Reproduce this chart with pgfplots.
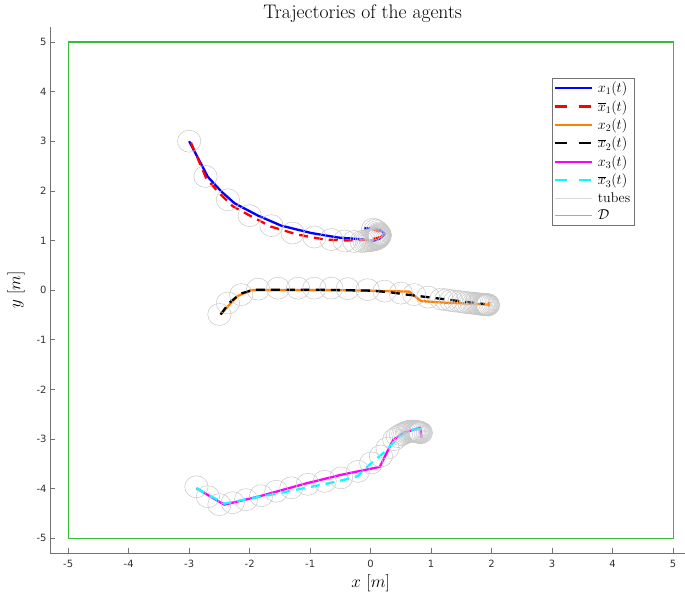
\documentclass[border=0pt]{standalone}
\usepackage{pgfplots}
\pgfplotsset{compat=1.18}
\usepackage{fontspec}
\newfontfamily\tickfont{DejaVu Sans}
\definecolor{cblue}{rgb}{0,0,1}
\definecolor{cred}{rgb}{1,0,0}
\definecolor{corange}{rgb}{1,0.5,0}
\definecolor{cmag}{rgb}{1,0,1}
\definecolor{ccyan}{rgb}{0,1,1}
\definecolor{cgreen}{rgb}{0.2,0.75,0.2}
\definecolor{ltgreen}{rgb}{0.45,0.82,0.45}
\definecolor{axgray}{rgb}{0.45,0.45,0.45}
\begin{document}
\begin{tikzpicture}
\path[use as bounding box] (-50bp,-45.7bp) rectangle (635bp,553.3bp);
\begin{axis}[
  at={(0,0)}, anchor=south west,
  scale only axis, width=641.3bp, height=526.3bp,
  xmin=-5.3, xmax=5.3, ymin=-5.3, ymax=5.3,
  axis x line*=bottom, axis y line*=left,
  axis line style={draw=axgray, line width=0.6bp, -},
  xtick={-5,-4,...,5}, ytick={-5,-4,...,5},
  tick align=inside, major tick length=5bp,
  tick style={draw=axgray, line width=0.6bp},
  /pgf/number format/assume math mode=true,
  tick label style={font=\tickfont\fontsize{10bp}{12bp}\selectfont, text=black!80},
  xticklabel shift=3bp,
  xlabel={$x\ [m]$}, ylabel={$y\ [m]$},
  ylabel shift=5bp,
  label style={font=\fontsize{18bp}{20bp}\selectfont},
  title={Trajectories of the agents},
  title style={at={(axis description cs:0.5,1)}, anchor=base, yshift=2.6bp, xshift=-8bp,
    font=\fontsize{19.6bp}{22bp}\selectfont},
  legend style={at={(0.9107,0.903)}, anchor=north east, draw=black!55, fill=white,
    font=\fontsize{14bp}{16bp}\selectfont, row sep=3bp, inner sep=2bp,
    nodes={inner sep=1.6bp}},
  legend cell align=left,
  legend image code/.code={\draw[#1] (0bp,0bp) -- (37bp,0bp); \path (40bp,0bp);},
]
% tubes
\addplot[forget plot, only marks, mark=o, mark size=11bp, mark options={draw=black!22, line width=0.5bp, xscale=1.06}] coordinates {
(-3.00,3.00) (-2.73,2.29) (-2.36,1.82) (-2.00,1.50) (-1.64,1.30) (-1.29,1.15) (-0.93,1.07) (-0.65,1.02) (-0.43,0.99) (-0.27,0.98) (-0.15,0.98)
(-0.10,0.985) (-0.06,0.99) (-0.03,0.995) (0.00,1.00) (0.02,1.005) (0.04,1.01) (0.06,1.015) (0.075,1.02) (0.09,1.03) (0.10,1.035) (0.11,1.04) (0.12,1.05) (0.125,1.055) (0.13,1.06) (0.135,1.07) (0.14,1.08) (0.145,1.09) (0.15,1.10) (0.15,1.11) (0.145,1.12) (0.14,1.13) (0.13,1.15) (0.11,1.18) (0.08,1.21) (0.04,1.23)
};
\addplot[forget plot, only marks, mark=o, mark size=11bp, mark options={draw=black!22, line width=0.5bp, xscale=1.06}] coordinates {
(-2.50,-0.49) (-2.36,-0.26) (-2.14,-0.09) (-1.86,0.02) (-1.53,0.04) (-1.20,0.04) (-0.93,0.04) (-0.65,0.04) (-0.38,0.03) (-0.05,0.01) (0.23,-0.02) (0.50,-0.06) (0.72,-0.09) (0.95,-0.14) (1.17,-0.18)
(1.25,-0.195) (1.33,-0.21) (1.40,-0.22) (1.47,-0.23) (1.53,-0.24) (1.58,-0.25) (1.63,-0.255) (1.67,-0.26) (1.71,-0.265) (1.74,-0.27) (1.77,-0.275) (1.79,-0.28) (1.81,-0.28) (1.83,-0.28) (1.85,-0.285) (1.86,-0.29) (1.875,-0.29) (1.89,-0.29) (1.90,-0.29) (1.91,-0.29) (1.92,-0.29) (1.93,-0.29) (1.935,-0.295) (1.94,-0.30)
};
\addplot[forget plot, only marks, mark=o, mark size=11bp, mark options={draw=black!22, line width=0.5bp, xscale=1.06}] coordinates {
(-2.88,-3.96) (-2.69,-4.16) (-2.50,-4.32) (-2.28,-4.28) (-2.06,-4.22) (-1.81,-4.14) (-1.56,-4.05) (-1.31,-3.98) (-1.04,-3.91) (-0.76,-3.85) (-0.49,-3.78) (-0.21,-3.65) (0.01,-3.48) (0.17,-3.34) (0.28,-3.18) (0.39,-3.01)
(0.45,-2.95) (0.50,-2.91) (0.54,-2.89) (0.57,-2.87) (0.60,-2.86) (0.62,-2.85) (0.64,-2.845) (0.66,-2.84) (0.68,-2.84) (0.70,-2.84) (0.715,-2.84) (0.73,-2.84) (0.745,-2.845) (0.76,-2.85) (0.77,-2.85) (0.78,-2.85) (0.79,-2.855) (0.80,-2.86) (0.81,-2.865) (0.82,-2.87) (0.83,-2.87)
};
% domain
\addplot[forget plot, cgreen, line width=1.3bp] coordinates {(-5,-5) (5,-5) (5,5) (-5,5) (-5,-5)};
% agent 1
\addplot[forget plot, cblue, line width=2.3bp, line join=round] coordinates {
(-3.00,3.00) (-2.69,2.28) (-2.47,1.99) (-2.25,1.75) (-1.86,1.50) (-1.48,1.30) (-0.98,1.15) (-0.54,1.06) (-0.10,1.02) (0.04,0.99) (0.15,1.04) (0.23,1.13) (0.16,1.21) (0.06,1.23) (-0.11,1.25)
};
\addplot[forget plot, cred, line width=2.3bp, dash pattern=on 9bp off 6bp] coordinates {
(-2.97,2.97) (-2.72,2.26) (-2.53,1.99) (-2.28,1.69) (-1.98,1.49) (-1.65,1.28) (-1.21,1.12) (-0.77,1.02) (-0.38,1.00) (0.00,1.02) (0.20,1.08) (0.14,1.18) (0.00,1.25)
};
% agent 2
\addplot[forget plot, corange, line width=2.3bp, line join=round] coordinates {
(-2.48,-0.49) (-2.31,-0.26) (-2.20,-0.12) (-1.98,0.00) (-1.50,0.00) (-1.00,0.00) (-0.50,0.00) (0.00,-0.01) (0.64,-0.03) (0.83,-0.22) (1.20,-0.25) (1.60,-0.27) (1.94,-0.29) (1.96,-0.25) (1.95,-0.33)
};
\addplot[forget plot, black, line width=2.3bp, dash pattern=on 9bp off 6bp] coordinates {
(-2.48,-0.49) (-2.34,-0.26) (-2.15,-0.07) (-1.92,0.01) (-1.50,0.01) (-1.00,0.01) (-0.50,0.00) (0.00,-0.01) (0.30,-0.04) (0.60,-0.09) (1.00,-0.15) (1.40,-0.21) (1.88,-0.28)
};
% agent 3
\addplot[forget plot, cmag, line width=2.3bp, line join=round] coordinates {
(-2.88,-3.99) (-2.42,-4.32) (-1.86,-4.16) (-1.09,-3.90) (-0.49,-3.72) (0.15,-3.56) (0.37,-3.02) (0.55,-2.87) (0.82,-2.77) (0.84,-2.97)
};
\addplot[forget plot, ccyan, line width=2.3bp, dash pattern=on 9bp off 6bp] coordinates {
(-2.88,-3.99) (-2.42,-4.30) (-1.92,-4.18) (-1.48,-4.08) (-0.98,-3.96) (-0.54,-3.85) (-0.22,-3.75) (-0.05,-3.55) (0.23,-3.26) (0.47,-2.95) (0.69,-2.81) (0.83,-2.80) (0.84,-2.95)
};
% legend
\addlegendimage{cblue, line width=2.3bp}
\addlegendentry{$x_1(t)$}
\addlegendimage{cred, line width=2.3bp, dash pattern=on 12bp off 12bp}
\addlegendentry{$\overline{x}_1(t)$}
\addlegendimage{corange, line width=2.3bp}
\addlegendentry{$x_2(t)$}
\addlegendimage{black, line width=2.3bp, dash pattern=on 12bp off 12bp}
\addlegendentry{$\overline{x}_2(t)$}
\addlegendimage{cmag, line width=2.3bp}
\addlegendentry{$x_3(t)$}
\addlegendimage{ccyan, line width=2.3bp, dash pattern=on 12bp off 12bp}
\addlegendentry{$\overline{x}_3(t)$}
\addlegendimage{black!15, line width=0.8bp}
\addlegendentry{tubes}
\addlegendimage{legend image code/.code={\draw[draw=ltgreen, line width=1.1bp] (0bp,0bp) -- (37bp,0bp); \path (40bp,0bp);}}
\addlegendentry{$\mathcal{D}$}
\end{axis}
\end{tikzpicture}
\end{document}
